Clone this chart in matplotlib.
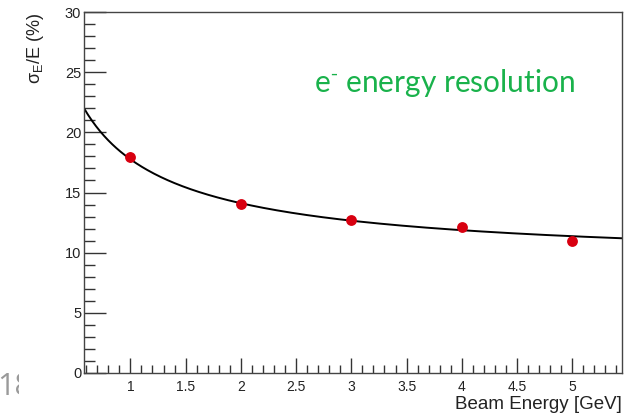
import numpy as np
import matplotlib
matplotlib.use("Agg")
import matplotlib.pyplot as plt
from matplotlib.ticker import MultipleLocator, FuncFormatter
from matplotlib.transforms import Bbox, TransformedBbox

# ---- data ----
beam_energy = [1, 2, 3, 4, 5]
resolution = [17.93, 14.05, 12.70, 12.16, 10.95]
res_err = [0.40, 0.20, 0.20, 0.20, 0.20]
# fit: sigma/E = sqrt(a^2/E + b^2)
fit_a = 15.26
fit_b = 9.09
x_range = [0.58, 5.45]
y_range = [0, 30]
x_title = "Beam Energy [GeV]"
y_title = r"$\mathrm{\sigma_{E}}$/E (%)"
note = r"e$^{\text{-}}$ energy resolution"
page_no = "18"

plt.rcParams['mathtext.fontset'] = 'custom'
plt.rcParams['mathtext.rm'] = 'Liberation Sans'
plt.rcParams['mathtext.it'] = 'Liberation Sans:italic'
plt.rcParams['font.family'] = ['Liberation Sans', 'DejaVu Sans']

W, H = 633, 417
fig = plt.figure(figsize=(W / 100, H / 100), dpi=100)
ax = fig.add_axes([84 / W, 1 - 373 / H, (622 - 84) / W, (373 - 12) / H])

# fit curve
xf = np.linspace(x_range[0], x_range[1], 400)
yf = np.sqrt(fit_a ** 2 / xf + fit_b ** 2)
ax.plot(xf, yf, color='black', lw=1.4, zorder=2)

# data points
ax.errorbar(beam_energy, resolution, yerr=res_err, fmt='o', color='#d80010',
            ecolor='#550000', elinewidth=1.0, capsize=0, markersize=7.8,
            markeredgewidth=0, zorder=3)

ax.set_xlim(*x_range)
ax.set_ylim(*y_range)

ax.xaxis.set_major_locator(MultipleLocator(0.5))
ax.xaxis.set_minor_locator(MultipleLocator(0.1))
ax.yaxis.set_major_locator(MultipleLocator(5))
ax.yaxis.set_minor_locator(MultipleLocator(1))

ax.tick_params(axis='x', which='major', direction='in', length=11, width=1,
               labelsize=10, pad=5, color='#333333')
ax.tick_params(axis='x', which='minor', direction='in', length=6, width=1,
               color='#333333')
ax.tick_params(axis='y', which='major', direction='in', length=16, width=1,
               labelsize=10.5, pad=2, color='#333333')
ax.tick_params(axis='y', which='minor', direction='in', length=8, width=1,
               color='#333333')
ax.tick_params(top=False, right=False, which='both')

fmt = FuncFormatter(lambda v, pos: '%g' % v)
ax.xaxis.set_major_formatter(fmt)
ax.yaxis.set_major_formatter(fmt)
for lab in ax.get_xticklabels() + ax.get_yticklabels():
    lab.set_color('#222222')

for sp in ax.spines.values():
    sp.set_color('#444444')
    sp.set_linewidth(1.0)

fig.text(622 / W, 1 - 396 / H, x_title, ha='right', va='top', fontsize=13.5,
         color='#222222')
fig.text(36 / W, 1 - 13 / H, y_title, ha='center', va='top', rotation=90,
         fontsize=13, color='#222222')

fig.text(314 / W, 1 - 92 / H, note, ha='left', va='baseline', fontsize=21.5,
         color='#19b24b', family=['Lato', 'DejaVu Sans'])

t = fig.text(-3 / W, 1 - 395 / H, page_no, ha='left', va='baseline',
             fontsize=22, color='#9a9a9a', family=['Open Sans', 'DejaVu Sans'])
clip = TransformedBbox(Bbox([[0, 0], [19 / W, 1]]), fig.transFigure)
t.set_clip_box(clip)
t.set_clip_on(True)

fig.savefig('out.png', dpi=100)
